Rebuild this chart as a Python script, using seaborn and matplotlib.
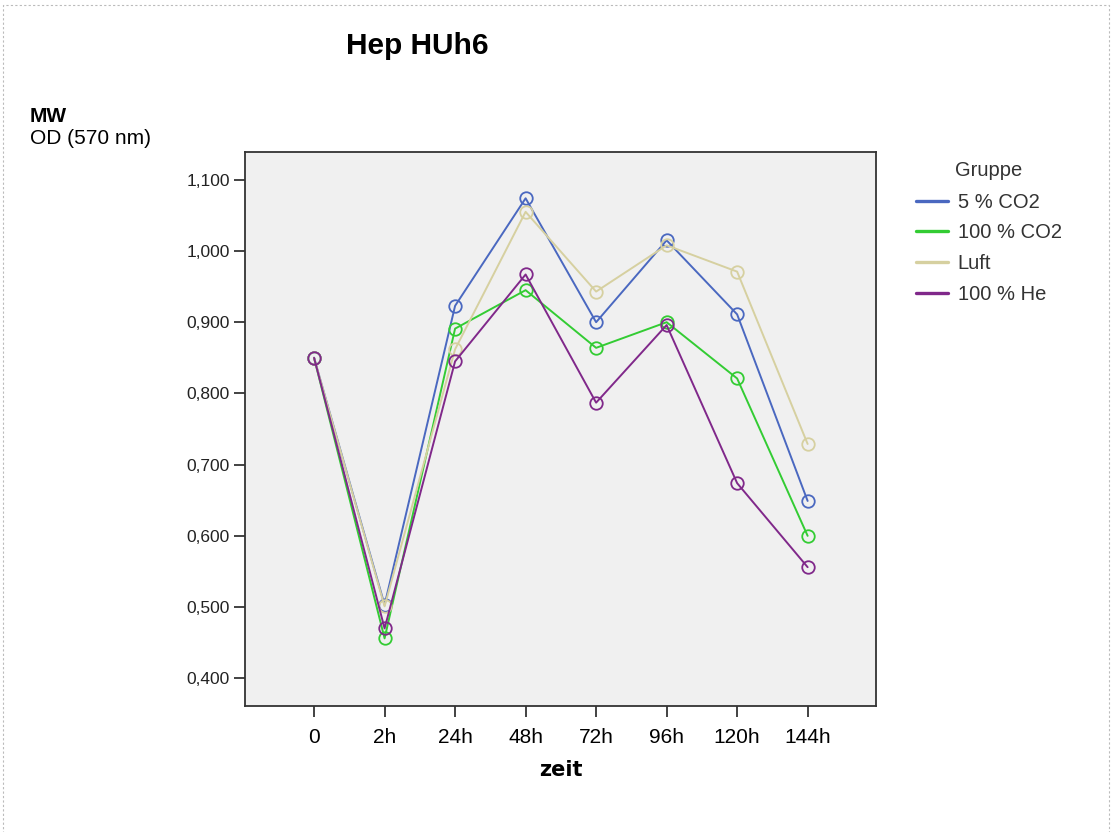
import matplotlib
matplotlib.use("Agg")
import matplotlib.pyplot as plt
import seaborn as sns
import pandas as pd
import numpy as np
from matplotlib.patches import Rectangle
from matplotlib.ticker import FuncFormatter

zeit = ["0", "2h", "24h", "48h", "72h", "96h", "120h", "144h"]
groups = ["5 % CO2", "100 % CO2", "Luft", "100 % He"]
co2_5 = [0.850, 0.503, 0.923, 1.074, 0.900, 1.015, 0.911, 0.649]
co2_100 = [0.850, 0.456, 0.891, 0.945, 0.864, 0.900, 0.821, 0.600]
luft = [0.850, 0.501, 0.862, 1.055, 0.943, 1.008, 0.971, 0.729]
he_100 = [0.850, 0.470, 0.845, 0.967, 0.787, 0.896, 0.674, 0.556]
colors = ["#4a68c0", "#33cc33", "#d6d0a0", "#80288a"]
yticks = [0.4, 0.5, 0.6, 0.7, 0.8, 0.9, 1.0, 1.1]

series = [co2_5, co2_100, luft, he_100]
rows = []
for g, vals in zip(groups, series):
    for i, v in enumerate(vals):
        rows.append({"pos": i, "zeit": zeit[i], "Gruppe": g, "OD": v})
df = pd.DataFrame(rows)

sns.set_style("white")
plt.rcParams["font.family"] = ["Liberation Sans", "DejaVu Sans"]
plt.rcParams["text.color"] = "black"

fig = plt.figure(figsize=(11.12, 8.32), dpi=100)
ax = fig.add_axes([0.2203, 0.1514, 0.5675, 0.6659])
ax.set_facecolor("#f0f0f0")

sns.lineplot(data=df, x="pos", y="OD", hue="Gruppe", hue_order=groups,
             palette=colors, marker="o", markersize=9, markerfacecolor="none",
             markeredgewidth=1.3, linewidth=1.4, ax=ax, legend=False)
for line, c in zip(ax.lines, colors):
    line.set_markeredgecolor(c)

ax.set_xlim(-0.98, 7.97)
ax.set_ylim(0.361, 1.139)
ax.set_xticks(range(len(zeit)))
ax.set_xticklabels(zeit, fontsize=15, color="black")
ax.set_yticks(yticks)
ax.yaxis.set_major_formatter(FuncFormatter(lambda v, p: f"{v:.3f}".replace(".", ",")))
ax.tick_params(axis="y", labelsize=12.5, length=8, width=1.2, direction="out", left=True, pad=3,
               labelcolor="#222222", color="#222222")
ax.tick_params(axis="x", length=8, width=1.2, direction="out", bottom=True, pad=8, color="#222222")
for s in ax.spines.values():
    s.set_color("#333333")
    s.set_linewidth(1.3)
ax.set_xlabel("zeit", fontsize=15, fontweight="bold", labelpad=9, family="DejaVu Sans", color="black")
ax.set_ylabel("")

# legend
handles = [plt.Line2D([0], [0], color=c, lw=2.4) for c in colors]
leg = fig.legend(handles, groups, title="Gruppe", loc="upper left",
                 bbox_to_anchor=(0.807, 0.828), frameon=False, fontsize=14.5,
                 title_fontsize=14.5, handlelength=1.6, handletextpad=0.5,
                 labelspacing=0.58, alignment="center")
leg._legend_box.sep = 9
for t in leg.get_texts():
    t.set_color("#333333")
leg.get_title().set_color("#333333")

fig.text(0.375, 0.945, "Hep HUh6", fontsize=21.5, fontweight="bold", ha="center", va="center")
fig.text(0.027, 0.860, "MW", fontsize=15, fontweight="bold", ha="left", va="center")
fig.text(0.027, 0.834, "OD (570 nm)", fontsize=15, ha="left", va="center")

fig.patches.append(Rectangle((0.003, -0.01), 0.994, 1.004, transform=fig.transFigure,
                             fill=False, edgecolor="#bbbbbb", linestyle=(0, (2, 2)), lw=0.8))

fig.savefig("out.png", dpi=100)
